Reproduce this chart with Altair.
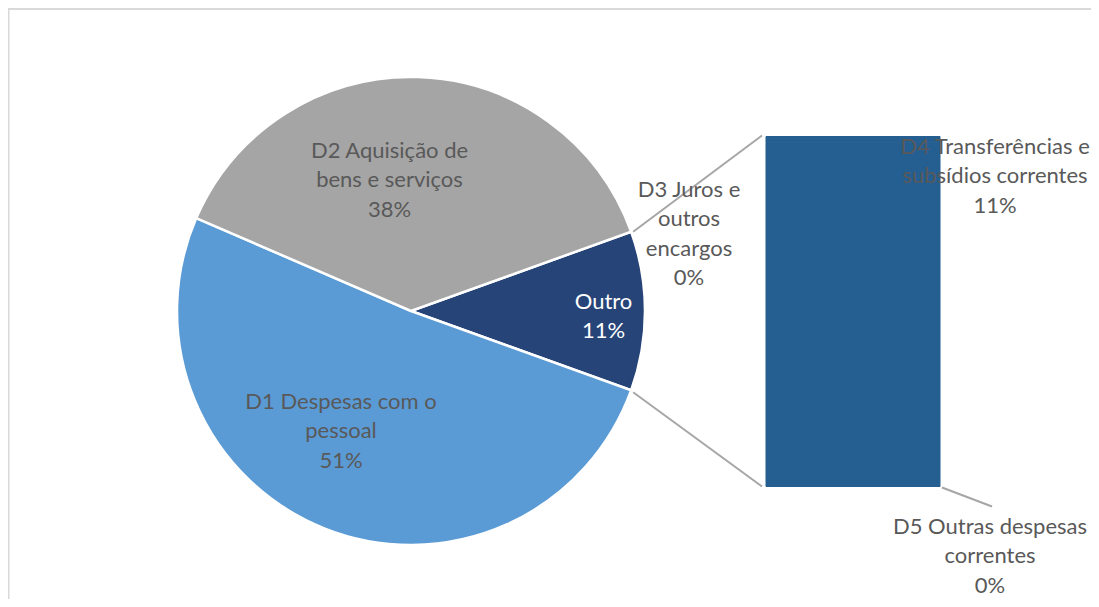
import math
import textwrap
import altair as alt
import pandas as pd

# ---- data ----
categories = [
    "D1 Despesas com o pessoal",
    "D2 Aquisição de bens e serviços",
    "D3 Juros e outros encargos",
    "D4 Transferências e subsídios correntes",
    "D5 Outras despesas correntes",
]
values = [51.0, 38.0, 0.2, 10.7, 0.1]
in_bar = [False, False, True, True, True]
other_label = "Outro"

# ---- layout / style ----
W, H = 1083, 591
CX, CY, R = 403, 303, 234
BAR_X0, BAR_X1, BAR_TOP, BAR_BOT = 758, 932, 128.5, 478.5
FONT = "Lato"
FS = 22
LH = 29.4
TXT = "#595959"
colors = {
    "D1 Despesas com o pessoal": "#5B9BD5",
    "D2 Aquisição de bens e serviços": "#A5A5A5",
    "Outro": "#264478",
}
BAR_COLOR = "#255E91"
LINE_COLOR = "#A6A6A6"
label_layout = {  # name -> (x centre, y of first line, wrap width, color)
    "D1 Despesas com o pessoal": (333, 394, 17, TXT),
    "D2 Aquisição de bens e serviços": (381.5, 143, 16, TXT),
    "Outro": (595.5, 294, 10, "white"),
    "D3 Juros e outros encargos": (681, 182, 10, TXT),
    "D4 Transferências e subsídios correntes": (987, 139, 19, TXT),
    "D5 Outras despesas correntes": (982, 519, 18, TXT),
}

total = sum(values)
other_total = sum(v for v, b in zip(values, in_bar) if b)

# pie table: Outro first (centered on the right), then the remaining slices
pie_names = [other_label] + [c for c, b in zip(categories, in_bar) if not b]
pie_vals = [other_total] + [v for v, b in zip(values, in_bar) if not b]
pie_df = pd.DataFrame({"cat": pie_names, "value": pie_vals, "ord": list(range(len(pie_names)))})

a0 = math.pi / 2 - math.pi * other_total / total  # start angle so Outro is centred at 3 o'clock
a1 = math.pi / 2 + math.pi * other_total / total

pie = alt.Chart(pie_df).mark_arc(radius=R, stroke="white", strokeWidth=2.5).encode(
    theta=alt.Theta("value:Q", stack=True,
                    scale=alt.Scale(domain=[0, total], range=[a0, a0 + 2 * math.pi], zero=True)),
    order=alt.Order("ord:Q"),
    color=alt.Color("cat:N", scale=alt.Scale(domain=pie_names, range=[colors[n] for n in pie_names]),
                    legend=None),
    x=alt.value(CX),
    y=alt.value(CY),
)

# bar of the "Outro" group (D3 on top, D5 at the bottom)
bar_names = [c for c, b in zip(categories, in_bar) if b]
bar_vals = [v for v, b in zip(values, in_bar) if b]
bar_df = pd.DataFrame({"cat": bar_names, "value": bar_vals, "ord": [2, 1, 0]})
bar = alt.Chart(bar_df).transform_stack(
    stack="value", groupby=[], as_=["v0", "v1"], sort=[alt.SortField("ord", order="ascending")]
).mark_rect(color=BAR_COLOR, stroke=BAR_COLOR, strokeWidth=1).encode(
    y=alt.Y("v0:Q", axis=None,
            scale=alt.Scale(domain=[0, other_total], range=[BAR_BOT, BAR_TOP], zero=True, nice=False)),
    y2="v1:Q",
    x=alt.value(BAR_X0),
    x2=alt.value(BAR_X1),
)

# connector lines from the Outro slice edges to the bar
def pt(a):
    return CX + R * math.sin(a), CY - R * math.cos(a)

p_top = pt(a0)
p_bot = pt(a1)
lines = []
for (x1, y1), (x2, y2) in [
    ((p_top[0] + 2, p_top[1]), (BAR_X0 - 4, BAR_TOP - 1)),
    ((p_bot[0] + 2, p_bot[1] + 2), (BAR_X0 - 4, BAR_BOT)),
    ((BAR_X1 + 2, BAR_BOT + 1), (BAR_X1 + 52, BAR_BOT + 20)),
]:
    lines.append(
        alt.Chart(pd.DataFrame({"k": [0]})).mark_rule(color=LINE_COLOR, strokeWidth=2).encode(
            x=alt.value(x1), y=alt.value(y1), x2=alt.value(x2), y2=alt.value(y2)
        )
    )

# labels
pct = {n: v / total * 100 for n, v in zip(pie_names, pie_vals)}
pct.update({n: v / total * 100 for n, v in zip(bar_names, bar_vals)})
labels = []
for name, (lx, ly, ww, col) in label_layout.items():
    text = "\n".join(textwrap.wrap(name, ww) + [f"{round(pct[name])}%"])
    labels.append(
        alt.Chart(pd.DataFrame({"t": [text]})).mark_text(
            font=FONT, fontSize=FS, lineHeight=LH, lineBreak="\n", color=col,
            align="center", baseline="middle",
        ).encode(text="t:N", x=alt.value(lx), y=alt.value(ly))
    )

border = alt.Chart(pd.DataFrame({"k": [0]})).mark_rect(
    fill="transparent", stroke="#D9D9D9", strokeWidth=2
).encode(x=alt.value(0.5), y=alt.value(1), x2=alt.value(W + 50), y2=alt.value(H + 50))

chart = alt.layer(border, pie, bar, *lines, *labels).properties(
    width=W, height=H, autosize=alt.AutoSizeParams(type="none"), padding=0, background="white"
).configure_view(stroke=None)

chart.save("out.html", embed_options={"renderer": "svg", "actions": False})
